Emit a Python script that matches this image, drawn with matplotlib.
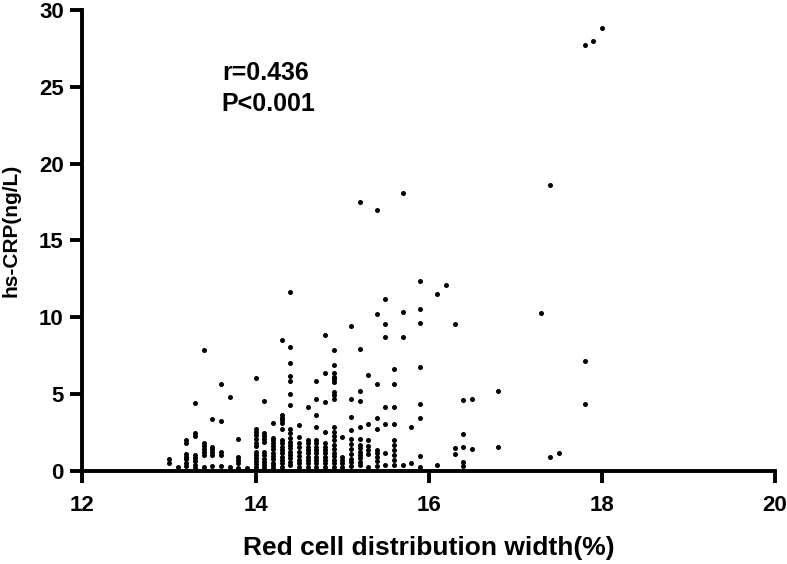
import matplotlib
matplotlib.use("Agg")
import matplotlib.pyplot as plt

# ---- data ----
columns_x = [13.0, 13.1, 13.2, 13.3, 13.4, 13.5, 13.6, 13.7, 13.8, 13.9,
             14.0, 14.1, 14.2, 14.3, 14.4, 14.5, 14.6, 14.7, 14.8, 14.9,
             15.0, 15.1, 15.2, 15.3, 15.4, 15.5, 15.6, 15.7, 15.8, 15.9,
             16.1, 16.2, 16.3, 16.4, 16.5, 16.8, 17.3, 17.4, 17.5, 17.8,
             17.9, 18.0]
columns_y = [
    [0.8, 0.5],
    [0.26],
    [2.0, 1.84, 1.13, 0.93, 0.76, 0.54, 0.35],
    [4.44, 2.45, 2.28, 1.04, 0.87, 0.65, 0.39, 0.21],
    [7.9, 1.8, 1.63, 1.43, 1.24, 1.04, 0.28],
    [3.4, 1.58, 1.41, 1.24, 1.04, 0.3],
    [5.68, 3.25, 1.24, 1.04, 0.3],
    [4.79, 0.28],
    [2.1, 0.93, 0.74, 0.54, 0.2],
    [0.2],
    [6.05, 2.75, 2.56, 2.32, 2.1, 1.84, 1.65, 1.26, 1.04, 0.83, 0.63, 0.44, 0.26],
    [4.55, 2.45, 2.28, 2.1, 1.89, 1.26, 1.02, 0.81, 0.61, 0.41, 0.2],
    [3.12, 2.17, 2.0, 1.82, 1.63, 1.43, 1.19, 0.98, 0.76, 0.54, 0.37, 0.2],
    [8.5, 3.62, 3.47, 3.32, 3.14, 2.73, 2.0, 1.8, 1.58, 1.37, 1.15, 0.93, 0.72, 0.5, 0.28],
    [11.65, 8.05, 7.05, 6.18, 5.86, 4.99, 4.31, 2.71, 2.45, 2.17, 1.89, 1.69, 1.48,
     1.26, 1.04, 0.83, 0.61, 0.39],
    [2.99, 2.23, 1.8, 1.54, 1.26, 0.98, 0.72, 0.5, 0.28],
    [4.18, 2.0, 1.8, 1.58, 1.37, 1.15, 0.93, 0.72, 0.5, 0.28],
    [5.86, 4.7, 3.66, 2.84, 2.0, 1.8, 1.58, 1.37, 1.15, 0.93, 0.72, 0.5, 0.26],
    [8.87, 6.38, 4.51, 2.56, 1.8, 1.58, 1.37, 1.15, 0.93, 0.72, 0.5, 0.28],
    [7.87, 6.9, 6.38, 6.12, 5.97, 5.79, 5.16, 4.94, 4.67, 2.84, 2.56, 2.28, 2.0,
     1.69, 1.43, 1.19, 0.98, 0.72, 0.5, 0.28],
    [2.23, 0.93, 0.72, 0.5, 0.28],
    [9.41, 4.7, 3.53, 2.67, 2.06, 1.73, 1.43, 1.11, 0.78, 0.56, 0.35],
    [17.5, 7.92, 5.2, 4.57, 2.88, 2.06, 1.69, 1.48, 1.26, 1.04, 0.83, 0.61, 0.39],
    [6.25, 3.04, 2.0, 1.63, 1.37, 1.11, 0.28],
    [17.0, 10.2, 5.64, 3.45, 2.71, 1.37, 1.15, 0.93, 0.67, 0.3],
    [11.19, 9.58, 8.74, 4.18, 3.04, 1.19, 0.39],
    [6.62, 5.68, 4.18, 3.04, 2.0, 1.69, 1.37, 1.04, 0.72, 0.39],
    [18.1, 10.35, 8.74, 0.39],
    [2.84, 0.5],
    [12.38, 10.56, 9.63, 6.75, 4.34, 3.43, 0.98, 0.24],
    [11.5, 0.39],
    [12.08],
    [9.58, 1.52, 1.1],
    [4.6, 2.39, 1.54, 0.6, 0.3],
    [4.7, 1.45],
    [5.2, 1.54],
    [10.28],
    [18.6, 0.89],
    [1.19],
    [27.7, 7.16, 4.38],
    [28.0],
    [28.8],
]

rdw = [x for x, ys in zip(columns_x, columns_y) for _ in ys]
hs_crp = [y for ys in columns_y for y in ys]

x_ticks = [12, 14, 16, 18, 20]
y_ticks = [0, 5, 10, 15, 20, 25, 30]
x_label = "Red cell distribution width(%)"
y_label = "hs-CRP(ng/L)"
stats_text = "r=0.436\nP<0.001"

# ---- plot ----
plt.rcParams['font.family'] = ['Liberation Sans', 'DejaVu Sans']
plt.rcParams['font.weight'] = 'bold'

fig = plt.figure(figsize=(7.87, 5.64), dpi=100)
ax = fig.add_axes([0.1048, 0.1649, 0.8800, 0.8174])

ax.scatter(rdw, hs_crp, s=13, c='black', linewidths=0, clip_on=False, zorder=3)

ax.set_xlim(12, 20)
ax.set_ylim(0, 30)
ax.set_xticks(x_ticks)
ax.set_yticks(y_ticks)
ax.set_xticklabels([str(t) for t in x_ticks], fontsize=16, fontweight='bold')
ax.set_yticklabels([str(t) for t in y_ticks], fontsize=16, fontweight='bold')

for s in ['top', 'right']:
    ax.spines[s].set_visible(False)
for s in ['left', 'bottom']:
    ax.spines[s].set_linewidth(2.8)
    ax.spines[s].set_capstyle('projecting')
ax.tick_params(axis='both', direction='out', length=8.5, width=2.8, color='black')
ax.tick_params(axis='x', pad=9)
ax.tick_params(axis='y', pad=5)

ax.set_xlabel(x_label, fontsize=19, fontweight='bold', labelpad=14)
ax.set_ylabel(y_label, fontsize=15, fontweight='bold')
ax.yaxis.set_label_coords(-0.090, 0.523)

ax.text(13.61, 24.9, stats_text, fontsize=18, fontweight='bold',
        va='center', ha='left', linespacing=1.37)

fig.savefig("out.png", dpi=100)
